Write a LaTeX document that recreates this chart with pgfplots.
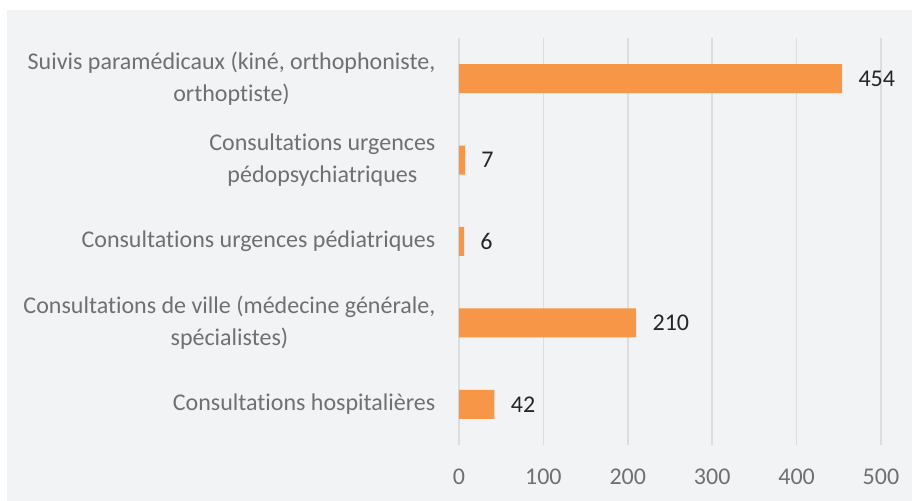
\documentclass[border=0pt]{standalone}
\usepackage{fontspec}
\setmainfont{Carlito}[Ligatures=NoCommon]
\usepackage{pgfplots}
\pgfplotsset{compat=1.18}
\definecolor{bg}{HTML}{F2F3F5}
\definecolor{barc}{HTML}{F79646}
\definecolor{gridc}{HTML}{DCDDDF}
\definecolor{labc}{HTML}{707070}
\definecolor{valc}{HTML}{262626}
\begin{document}
\begin{tikzpicture}
\path[use as bounding box] (-229.5pt,-28pt) rectangle (226.5pt,222.5pt);
\fill[bg] (-226pt,-28pt) rectangle (226.5pt,217.5pt);
\begin{axis}[
  at={(0pt,0pt)}, anchor=south west,
  scale only axis, width=211pt, height=203.5pt,
  xbar, bar width=14.5pt,
  xmin=0, xmax=500, ymin=-0.5, ymax=4.5,
  xtick={0,100,...,500},
  ytick={0,1,2,3,4},
  yticklabels={Consultations hospitalières,
    {Consultations de ville (médecine générale,\\spécialistes)},
    Consultations urgences pédiatriques,
    {Consultations urgences\\pédopsychiatriques},
    {Suivis paramédicaux (kiné, orthophoniste,\\orthoptiste)}},
  /pgf/number format/assume math mode=true,
  axis line style={draw=none},
  tick style={draw=none},
  xmajorgrids, major grid style={color=gridc, line width=0.75pt},
  xticklabel style={font=\fontsize{12}{14}\selectfont, text=labc, yshift=-8.5pt},
  yticklabel style={font=\fontsize{12}{16}\selectfont, text=labc, align=center, xshift=-4pt},
  nodes near coords, point meta=x,
  every node near coord/.append style={anchor=west, inner sep=0pt, xshift=8pt, font=\fontsize{12}{14}\selectfont, text=valc},
]
\addplot[fill=barc, draw=none] coordinates {(42,0) (210,1) (6,2) (7,3) (454,4)};
\end{axis}
\end{tikzpicture}
\end{document}
